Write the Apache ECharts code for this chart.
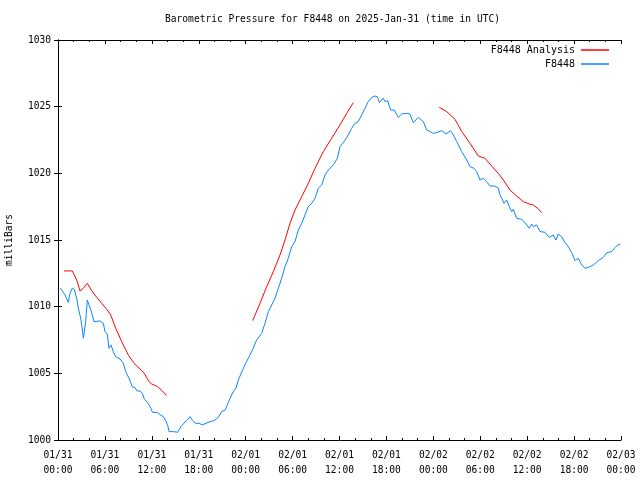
<!DOCTYPE html>
<html>
<head>
<meta charset="utf-8">
<script src="https://cdn.jsdelivr.net/npm/echarts@6/dist/echarts.min.js"></script>
<style>html,body{margin:0;padding:0;background:#fff}#c{width:640px;height:480px}</style>
</head>
<body>
<div id="c"></div>
<script>
var titleText = 'Barometric Pressure for F8448 on 2025-Jan-31 (time in UTC)';
var yName = 'milliBars';
var xTickLabels = ['01/31\n00:00','01/31\n06:00','01/31\n12:00','01/31\n18:00','02/01\n00:00','02/01\n06:00','02/01\n12:00','02/01\n18:00','02/02\n00:00','02/02\n06:00','02/02\n12:00','02/02\n18:00','02/03\n00:00'];
var seriesNames = ['F8448 Analysis','F8448'];

// hours since 2025-01-31 00:00 UTC
var obsHours = [0.3,0.9,1.32,1.53,1.83,2.09,2.43,2.6,2.9,3.07,3.24,3.37,3.54,3.75,3.96,4.18,4.39,4.6,4.82,5.37,5.8,6.01,6.3,6.52,6.78,7.07,7.38,7.93,8.36,8.66,9.08,9.5,9.85,10.1,10.49,10.79,11.05,11.47,11.89,12.07,12.75,13.17,13.47,13.77,14.03,14.2,14.75,15.3,15.73,16.24,16.54,16.88,17.22,17.61,18.07,18.46,18.93,19.44,19.95,20.5,20.93,21.36,21.65,22.0,22.42,22.76,23.06,23.5,24.0,24.4,24.9,25.4,26.05,26.47,26.9,27.33,27.75,28.18,28.6,29.03,29.45,29.88,30.31,30.74,31.16,31.59,32.01,32.44,32.87,33.29,33.72,34.15,34.57,35.21,35.73,36.06,36.58,37.0,37.56,37.98,38.4,38.84,39.26,39.68,40.12,40.54,40.84,41.1,41.6,41.82,42.16,42.37,42.55,43.0,43.52,43.95,44.6,45.0,45.44,46.08,46.72,47.15,47.58,48.0,48.43,49.07,49.62,50.22,50.56,50.99,51.63,52.27,52.69,53.2,53.55,53.97,54.39,54.82,55.25,55.8,56.3,56.53,56.75,57.04,57.38,57.72,58.02,58.23,58.66,59.3,59.73,60.27,60.58,60.79,61.22,61.64,62.28,62.83,63.34,63.69,63.98,64.41,64.84,65.26,65.69,66.12,66.55,66.97,67.4,67.83,68.47,69.11,69.75,70.18,70.82,71.24,71.58,71.9];
var obsPressure = [1011.38,1010.88,1010.33,1011.0,1011.38,1011.3,1010.5,1009.88,1009.13,1008.5,1007.63,1008.13,1008.88,1010.5,1010.13,1009.8,1009.38,1008.88,1008.95,1008.93,1008.75,1008.13,1007.95,1006.88,1007.13,1006.63,1006.25,1006.08,1005.75,1005.13,1004.63,1004.0,1003.93,1003.68,1003.68,1003.5,1003.05,1002.8,1002.38,1002.08,1002.05,1001.85,1001.75,1001.45,1001.1,1000.63,1000.63,1000.58,1001.0,1001.35,1001.5,1001.75,1001.45,1001.25,1001.25,1001.13,1001.25,1001.38,1001.45,1001.7,1002.13,1002.25,1002.63,1003.13,1003.63,1003.88,1004.5,1005.1,1005.75,1006.2,1006.8,1007.5,1008.0,1008.75,1009.63,1010.13,1010.63,1011.38,1012.13,1013.0,1013.63,1014.5,1014.88,1015.75,1016.25,1016.88,1017.5,1017.75,1018.13,1018.88,1019.13,1019.88,1020.25,1020.63,1021.13,1022.0,1022.38,1022.75,1023.38,1023.75,1023.88,1024.38,1024.88,1025.38,1025.7,1025.8,1025.75,1025.3,1025.63,1025.38,1025.45,1025.05,1024.75,1024.75,1024.2,1024.45,1024.5,1024.45,1023.8,1024.2,1023.88,1023.25,1023.13,1023.0,1023.05,1023.2,1022.95,1023.2,1022.88,1022.38,1021.63,1021.0,1020.5,1020.38,1020.13,1019.5,1019.63,1019.38,1019.05,1019.05,1018.9,1018.38,1018.13,1017.75,1018.0,1017.5,1017.13,1017.3,1016.63,1016.55,1016.3,1015.88,1016.2,1016.0,1016.13,1015.63,1015.58,1015.2,1015.38,1015.0,1015.45,1015.25,1014.8,1014.5,1014.05,1013.45,1013.63,1013.13,1012.88,1012.95,1013.13,1013.45,1013.7,1014.05,1014.13,1014.43,1014.63,1014.7];

// analysis: three runs, null marks a gap
var anaHours = [0.77,1.83,2.39,2.81,3.24,3.75,4.31,4.95,5.59,6.23,6.74,7.38,8.15,8.99,9.72,10.62,11.04,11.64,11.98,12.75,13.34,13.9,
  19.0,
  24.9,25.83,26.69,27.54,28.39,29.03,29.67,30.31,31.16,32.01,32.87,33.93,35.0,36.06,36.92,37.77,
  43.0,
  48.77,49.71,50.77,51.63,52.69,53.76,54.61,55.46,56.31,56.96,57.8,58.66,59.51,60.37,60.79,61.43,61.86];
var anaPressure = [1012.68,1012.68,1012.0,1011.18,1011.38,1011.75,1011.2,1010.7,1010.25,1009.8,1009.38,1008.38,1007.38,1006.38,1005.75,1005.25,1005.0,1004.38,1004.2,1004.0,1003.68,1003.33,
  null,
  1008.95,1010.25,1011.5,1012.63,1013.88,1015.0,1016.25,1017.25,1018.25,1019.25,1020.38,1021.63,1022.63,1023.63,1024.5,1025.3,
  null,
  1024.95,1024.63,1024.05,1023.13,1022.25,1021.3,1021.13,1020.55,1020.0,1019.5,1018.75,1018.3,1017.88,1017.68,1017.63,1017.33,1017.05];

var FONT = 'DejaVu Sans Mono';
function pairs(xs, ys){ return xs.map(function(x,i){ return [x, ys[i]]; }); }

var chart = echarts.init(document.getElementById('c'), null, {renderer:'canvas'});
var axisCommon = {
  axisLine:{show:true, lineStyle:{color:'#000', width:1}},
  splitLine:{show:false}
};
chart.setOption({
  animation:false,
  backgroundColor:'#fff',
  title:{text:titleText, left:160, top:9, textStyle:{fontFamily:FONT, fontSize:9.6, fontWeight:'normal', color:'#000'}},
  legend:[
    {data:[seriesNames[0]], orient:'vertical', right:26, top:40, align:'right', icon:'rect', itemWidth:28, itemHeight:1.5, itemGap:4,
     textStyle:{fontFamily:FONT, fontSize:10, color:'#000', padding:[0,1,0,0]}},
    {data:[seriesNames[1]], orient:'vertical', right:26, top:54, align:'right', icon:'rect', itemWidth:28, itemHeight:1.5, itemGap:4,
     textStyle:{fontFamily:FONT, fontSize:10, color:'#000', padding:[0,1,0,0]}}
  ],
  grid:{left:58, right:19, top:40, bottom:40, containLabel:false, outerBoundsMode:'none'},
  xAxis:[
    Object.assign({type:'value', min:0, max:72, interval:6, position:'bottom',
      axisTick:{show:true, inside:true, length:4, lineStyle:{color:'#000'}},
      minorTick:{show:true, splitNumber:3, length:2, lineStyle:{color:'#000'}},
      minorSplitLine:{show:false},
      axisLabel:{show:true, margin:8, hideOverlap:false, showMinLabel:true, showMaxLabel:true, fontFamily:FONT, fontSize:9.6, color:'#000', lineHeight:15,
        formatter:function(v){ return xTickLabels[Math.round(v/6)]; }}
    }, axisCommon),
    Object.assign({type:'value', min:0, max:72, interval:6, position:'top',
      axisTick:{show:true, inside:true, length:4, lineStyle:{color:'#000'}},
      minorTick:{show:true, splitNumber:3, length:2, lineStyle:{color:'#000'}},
      axisLabel:{show:false}
    }, axisCommon)
  ],
  yAxis:[
    Object.assign({type:'value', min:1000, max:1030, interval:5, position:'left',
      name:yName, nameLocation:'middle', nameGap:44, nameRotate:90,
      nameTextStyle:{fontFamily:FONT, fontSize:9.6, color:'#000'},
      axisTick:{show:true, inside:true, length:4, lineStyle:{color:'#000'}},
      axisLabel:{show:true, margin:7, fontFamily:FONT, fontSize:9.6, color:'#000', formatter:function(v){ return String(v); }}
    }, axisCommon),
    Object.assign({type:'value', min:1000, max:1030, interval:5, position:'right',
      axisTick:{show:true, inside:true, length:4, lineStyle:{color:'#000'}},
      axisLabel:{show:false}
    }, axisCommon)
  ],
  series:[
    {name:seriesNames[0], type:'line', xAxisIndex:0, yAxisIndex:0, data:pairs(anaHours, anaPressure), connectNulls:false,
     showSymbol:false, symbol:'none', lineStyle:{color:'#ff0000', width:1}, itemStyle:{color:'#ff0000'}, z:3},
    {name:seriesNames[1], type:'line', xAxisIndex:0, yAxisIndex:0, data:pairs(obsHours, obsPressure),
     showSymbol:false, symbol:'none', lineStyle:{color:'#0a85ff', width:1}, itemStyle:{color:'#0a85ff'}, z:2}
  ]
});
</script>
</body>
</html>
